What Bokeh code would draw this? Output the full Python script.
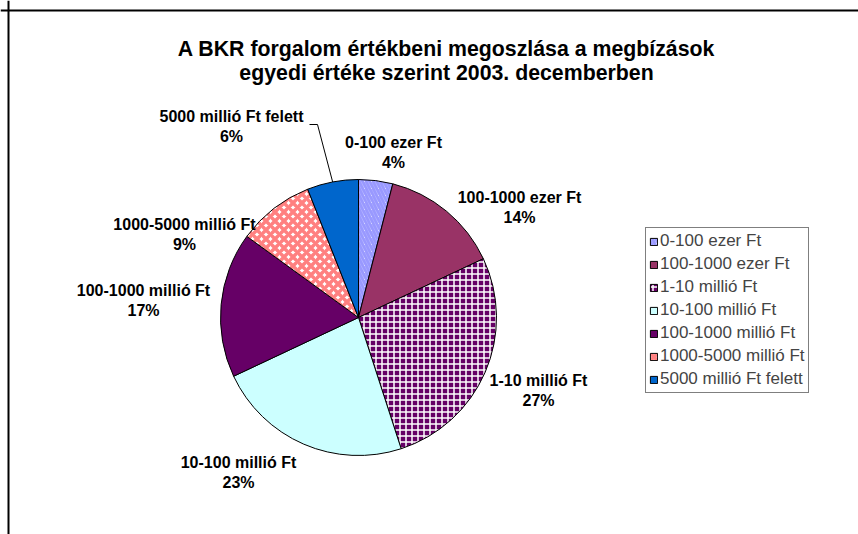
import numpy as np
from bokeh.plotting import figure
from bokeh.models import ColumnDataSource, Range1d, Legend, LegendItem, Span
from bokeh.core.properties import value
from bokeh.embed import file_html
from bokeh.resources import INLINE

# ---------------- data ----------------
title_lines = ["A BKR forgalom értékbeni megoszlása a megbízások",
               "egyedi értéke szerint 2003. decemberben"]
categories = ["0-100 ezer Ft", "100-1000 ezer Ft", "1-10 millió Ft", "10-100 millió Ft",
              "100-1000 millió Ft", "1000-5000 millió Ft", "5000 millió Ft felett"]
shares = [4, 14, 27, 23, 17, 9, 6]

# ---------------- styles ----------------
fill_colors = ["white", "#993366", "#660066", "#CCFFFF", "#660066", "white", "#0066CC"]
hatch_patterns = ["left_diagonal_line", "blank", "cross", "blank", "blank", "diagonal_cross", "blank"]
hatch_colors = ["#9999FF", "white", "white", "white", "white", "#FF8080", "white"]
hatch_scales = [7, 6, 6, 6, 6, 9, 6]
hatch_weights = [3, 1, 1.5, 1, 1, 3.5, 1]

# ---------------- layout (page pixels) ----------------
W, H = 858, 534
CX, CY, R = 358, 317, 138
# label block centres relative to pie centre (name line), pct line below
label_offsets = [(35, -175), (161, -120), (180, 63), (-120, 145), (-215, -27), (-174, -93), (-127, -201)]
LINE_GAP = 20
FONT = "Liberation Sans"


def fx(X):
    return X


def fy(Y):
    return H - Y


p = figure(width=W, height=H, output_backend="svg", toolbar_location=None,
           x_range=Range1d(0, W), y_range=Range1d(0, H),
           x_axis_type=None, y_axis_type=None, min_border=0)
p.outline_line_color = None
p.grid.visible = False
p.background_fill_color = "white"
p.border_fill_color = "white"

# chart-area frame (only top and left edges visible)
p.add_layout(Span(location=8, dimension="height", line_color="black", line_width=2))
p.add_layout(Span(location=fy(10), dimension="width", line_color="black", line_width=2))

# title
for i, t in enumerate(title_lines):
    p.text(x=[fx(446)], y=[fy(48 + 24 * i)], text=[t], text_align="center", text_baseline="middle",
           text_font=value(FONT), text_font_style="bold", text_font_size="21.3px", text_color="black")

# pie
vals = np.array(shares, dtype=float)
frac = vals / vals.sum()
cum = np.concatenate([[0], np.cumsum(frac)])
start = np.pi / 2 - 2 * np.pi * cum[:-1]
end = np.pi / 2 - 2 * np.pi * cum[1:]
mid = (start + end) / 2

src = ColumnDataSource(dict(
    x=[fx(CX)] * len(vals), y=[fy(CY)] * len(vals), start=start, end=end,
    fill=fill_colors, hp=hatch_patterns, hc=hatch_colors, hs=hatch_scales, hw=hatch_weights,
    cat=categories))
r = p.wedge(x="x", y="y", radius=R, start_angle="start", end_angle="end", direction="clock",
            source=src, fill_color="fill", hatch_pattern="hp", hatch_color="hc",
            hatch_scale="hs", hatch_weight="hw", line_color="black", line_width=1)

# labels
for i, (cat, s) in enumerate(zip(categories, shares)):
    dx, dy = label_offsets[i]
    X, Y = CX + dx, CY + dy
    p.text(x=[fx(X)], y=[fy(Y)], text=[cat], text_align="center", text_baseline="middle",
           text_font=value(FONT), text_font_style="bold", text_font_size="16px", text_color="black")
    p.text(x=[fx(X)], y=[fy(Y + LINE_GAP)], text=[f"{s}%"], text_align="center", text_baseline="middle",
           text_font=value(FONT), text_font_style="bold", text_font_size="16px", text_color="black")

# leader line for the last slice
i = len(shares) - 1
ex = CX + R * np.cos(mid[i])
ey = CY - R * np.sin(mid[i])
lx = [fx(309), fx(317), fx(ex)]
ly = [fy(124), fy(124), fy(ey)]
p.line(lx, ly, line_color="black", line_width=1)

# legend
items = [LegendItem(label=c, renderers=[r], index=k) for k, c in enumerate(categories)]
legend = Legend(items=items, location=(fx(645), fy(393)), border_line_color="black",
                border_line_width=1, background_fill_color="white", background_fill_alpha=1,
                label_text_font=FONT, label_text_font_size="17px", glyph_width=9, glyph_height=9,
                label_standoff=2, padding=3, spacing=3, label_height=20, margin=0)
p.add_layout(legend)

open("out.html", "w").write(file_html(p, INLINE))
